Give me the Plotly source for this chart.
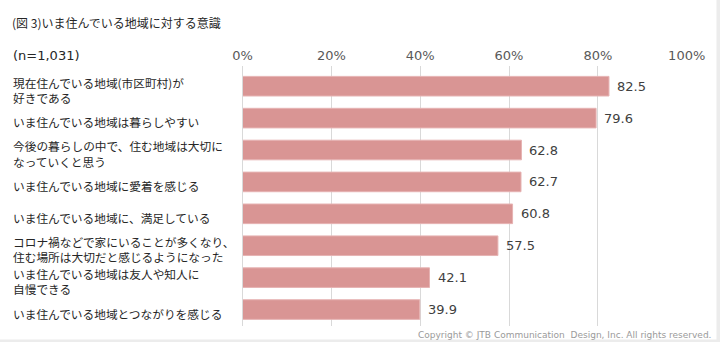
import plotly.graph_objects as go

categories = [
    "現在住んでいる地域(市区町村)が<br>好きである",
    "いま住んでいる地域は暮らしやすい",
    "今後の暮らしの中で、住む地域は大切に<br>なっていくと思う",
    "いま住んでいる地域に愛着を感じる",
    "いま住んでいる地域に、満足している",
    "コロナ禍などで家にいることが多くなり、<br>住む場所は大切だと感じるようになった",
    "いま住んでいる地域は友人や知人に<br>自慢できる",
    "いま住んでいる地域とつながりを感じる",
]
values = [82.5, 79.6, 62.8, 62.7, 60.8, 57.5, 42.1, 39.9]
tick_vals = [0, 20, 40, 60, 80, 100]
tick_text = ["0%", "20%", "40%", "60%", "80%", "100%"]

title_text = "(図 3)いま住んでいる地域に対する意識"
n_text = "(n=1,031)"
copyright_text = "Copyright © JTB Communication  Design, Inc. All rights reserved."

W, H = 720, 342
JP = "Noto Sans CJK JP"
LAT = "DejaVu Sans"
LINE_GAP = 15.4

fig = go.Figure()
fig.add_trace(go.Bar(
    x=values, y=categories, orientation="h",
    marker=dict(color="#D99594", line=dict(color="#E6B3B3", width=1)),
    hoverinfo="skip",
))

annotations = []
for c, v in zip(categories, values):
    lines = c.split("<br>")
    n = len(lines)
    for i, ln in enumerate(lines):
        off = ((n - 1) / 2 - i) * LINE_GAP
        annotations.append(dict(
            x=12 / W, xref="paper", y=c, yref="y",
            xanchor="left", yanchor="middle", align="left",
            text=ln, showarrow=False, yshift=-3.5 + off, borderpad=0,
            font=dict(family=JP, size=11.7, color="#262626"),
        ))
    annotations.append(dict(
        x=v, xref="x", y=c, yref="y",
        xanchor="left", yanchor="middle",
        text=f"{v:.1f}", showarrow=False, xshift=6,
        font=dict(family=LAT, size=13, color="#404040"),
    ))

annotations.append(dict(
    x=10 / W, y=1 - 22 / H, xref="paper", yref="paper",
    xanchor="left", yanchor="middle", text=title_text, showarrow=False,
    font=dict(family=JP, size=12, color="#262626"),
))
annotations.append(dict(
    x=11 / W, y=1 - 55 / H, xref="paper", yref="paper",
    xanchor="left", yanchor="middle", text=n_text, showarrow=False,
    font=dict(family=LAT, size=13, color="#262626"),
))
annotations.append(dict(
    x=713 / W, y=1 - 335 / H, xref="paper", yref="paper",
    xanchor="right", yanchor="middle", text=copyright_text, showarrow=False,
    font=dict(family=LAT, size=9, color="#9a9a9a"),
))

shapes = [
    dict(type="rect", xref="paper", yref="paper", x0=716.5 / W, x1=1, y0=0, y1=1,
         fillcolor="#ececec", line=dict(width=0), layer="above"),
    dict(type="rect", xref="paper", yref="paper", x0=0, x1=1, y0=0, y1=2.5 / H,
         fillcolor="#ececec", line=dict(width=0), layer="above"),
]

fig.update_layout(
    width=W, height=H,
    margin=dict(l=0, r=0, t=0, b=0, autoexpand=False),
    paper_bgcolor="white", plot_bgcolor="white",
    showlegend=False,
    bargap=0.385,
    annotations=annotations,
    shapes=shapes,
    xaxis=dict(
        domain=[242.5 / W, 686.7 / W],
        range=[0, 100], side="top", automargin=False,
        tickvals=tick_vals, ticktext=tick_text,
        tickfont=dict(family=LAT, size=13, color="#595959"),
        showgrid=True, gridcolor="#d9d9d9", gridwidth=1,
        zeroline=False, showline=False, ticks="",
        ticklabelstandoff=2,
    ),
    yaxis=dict(
        domain=[1 - 325.5 / H, 1 - 65.5 / H],
        autorange="reversed", automargin=False,
        showticklabels=False, showgrid=False, zeroline=False,
        showline=True, linecolor="#d9d9d9", linewidth=1, ticks="",
    ),
)

fig.write_html("out.html")
